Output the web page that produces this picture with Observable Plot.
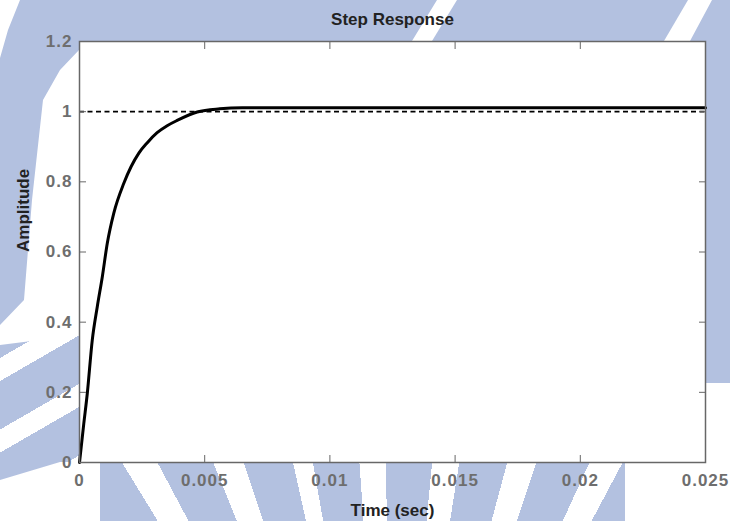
<!DOCTYPE html>
<html>
<head>
<meta charset="utf-8">
<script src="https://cdn.jsdelivr.net/npm/d3@7"></script>
<script src="https://cdn.jsdelivr.net/npm/@observablehq/plot@0.6"></script>
<style>
  html, body { margin: 0; padding: 0; background: #fff; }
  #wrap { position: relative; width: 730px; height: 521px; overflow: hidden; }
  .wm { position: absolute; left: 0; top: 0; width: 730px; height: 521px; background: #b3c1e0; }
  .wm-a { clip-path: polygon(20px 0, 437px 0, 412px 41px, 79px 41px, 79px 50px, 60px 70px, 43px 100px, 32px 200px, 24px 300px, 0 325px, 0 58px, 8px 30px); }
  .wm-b { clip-path: polygon(457px 0, 688px 0, 664px 41px, 432px 41px); }
  .wm-c { clip-path: polygon(712px 0, 730px 0, 730px 383px, 705px 383px, 705px 41px, 690px 41px); }
  .wm-d { background: repeating-linear-gradient(150deg, transparent 0 20px, #b3c1e0 20px 62px);
          clip-path: polygon(0 345px, 79px 335px, 79px 462px, 60px 462px, 0 480px); }
  .wm-e { background: repeating-conic-gradient(from -10deg at 390px 900px, #b3c1e0 0deg 6deg, transparent 6deg 9.5deg);
          clip-path: polygon(100px 463px, 625px 463px, 625px 521px, 100px 521px); }
  #chart { position: absolute; left: 0; top: 0; }
  #chart [aria-label$="tick label"] text { letter-spacing: 1px; }
</style>
</head>
<body>
<div id="wrap">
  <div class="wm wm-a"></div>
  <div class="wm wm-b"></div>
  <div class="wm wm-c"></div>
  <div class="wm wm-d"></div>
  <div class="wm wm-e"></div>
  <div id="chart"></div>
</div>
<script>
// ---- data ----
const timeSec   = [0, 0.00017, 0.00031, 0.00051, 0.00071, 0.00091, 0.00111, 0.00137, 0.00177, 0.00237, 0.0027, 0.0031, 0.0035, 0.0039, 0.0047, 0.0056, 0.0065, 0.01, 0.015, 0.02, 0.025];
const amplitude = [0, 0.11, 0.196, 0.349, 0.444, 0.529, 0.625, 0.711, 0.796, 0.882, 0.911, 0.940, 0.960, 0.975, 0.999, 1.008, 1.011, 1.011, 1.011, 1.011, 1.011];
const referenceLevel = [1];
const xTicks = [0, 0.005, 0.01, 0.015, 0.02, 0.025];
const xTickLabels = ["0", "0.005", "0.01", "0.015", "0.02", "0.025"];
const yTicks = [0, 0.2, 0.4, 0.6, 0.8, 1, 1.2];
const yTickLabels = ["0", "0.2", "0.4", "0.6", "0.8", "1", "1.2"];
const titleText = ["Step Response"];
const xLabel = ["Time (sec)"];
const yLabel = ["Amplitude"];

const series = timeSec.map((t, i) => ({t, a: amplitude[i]}));
const axisGrey = "#676767";
const font = "'Liberation Sans', Arial, Helvetica, sans-serif";

const chart = Plot.plot({
  width: 730,
  height: 521,
  marginLeft: 79,
  marginRight: 25,
  marginTop: 41,
  marginBottom: 59,
  style: {background: "transparent", fontFamily: font, overflow: "visible"},
  x: {domain: [0, 0.025]},
  y: {domain: [0, 1.2]},
  marks: [
    Plot.frame({fill: "white", stroke: null}),
    Plot.ruleY(referenceLevel, {stroke: "#000", strokeWidth: 1.6, strokeDasharray: "5,3.5"}),
    Plot.line(series, {x: "t", y: "a", stroke: "#000", strokeWidth: 3, curve: "monotone-x"}),
    Plot.frame({stroke: axisGrey, strokeWidth: 1.5}),
    Plot.axisX(xTicks, {anchor: "bottom", tickSize: -7, tickPadding: 18, stroke: axisGrey, fill: "#6e6e6e",
      fontSize: 17, fontWeight: "bold", tickFormat: (d, i) => xTickLabels[i], label: null}),
    Plot.axisX(xTicks, {anchor: "top", tickSize: -7, stroke: axisGrey, tickFormat: () => "", label: null}),
    Plot.axisY(yTicks, {anchor: "left", tickSize: -7, tickPadding: 14, stroke: axisGrey, fill: "#6e6e6e",
      fontSize: 17, fontWeight: "bold", tickFormat: (d, i) => yTickLabels[i], label: null}),
    Plot.axisY(yTicks, {anchor: "right", tickSize: -7, stroke: axisGrey, tickFormat: () => "", label: null}),
    Plot.text(titleText, {text: d => d, frameAnchor: "top", lineAnchor: "middle", dy: -22, fontSize: 17, fontWeight: "bold", fill: "#222"}),
    Plot.text(xLabel, {text: d => d, frameAnchor: "bottom", lineAnchor: "middle", dy: 48, fontSize: 17, fontWeight: "bold", fill: "#222"}),
    Plot.text(yLabel, {text: d => d, frameAnchor: "left", lineAnchor: "middle", dx: -56, rotate: -90, fontSize: 17, fontWeight: "bold", fill: "#222"})
  ]
});
document.getElementById("chart").appendChild(chart);
</script>
</body>
</html>
